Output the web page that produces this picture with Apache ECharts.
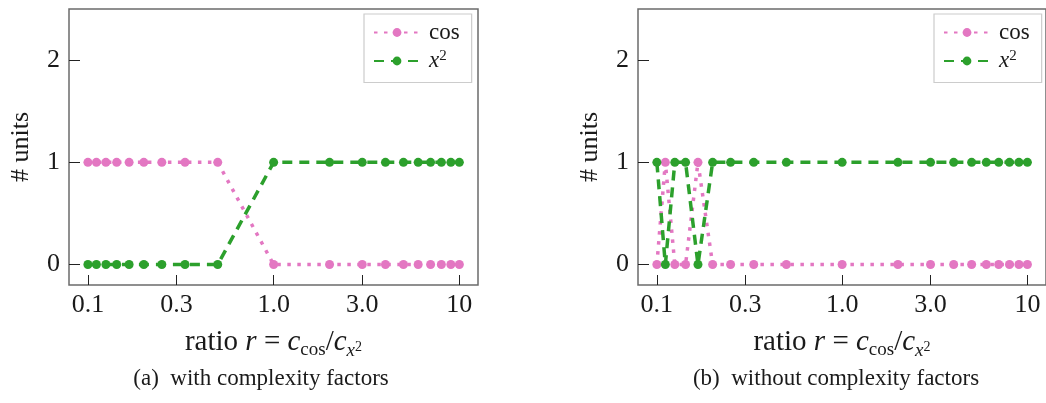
<!DOCTYPE html>
<html>
<head>
<meta charset="utf-8">
<script src="https://cdn.jsdelivr.net/npm/echarts@6/dist/echarts.min.js"></script>
<style>
  html, body { margin: 0; padding: 0; background: #fff; }
  #chart { width: 1046px; height: 403px; }
</style>
</head>
<body>
<div id="chart"></div>
<script>
// Cost ratio r = c_cos / c_x2 sampled on both panels
const ratios = [0.1, 1/9, 1/8, 1/7, 1/6, 0.2, 0.25, 1/3, 0.5, 1, 2, 3, 4, 5, 6, 7, 8, 9, 10];

// Number of units chosen per function, (a) with complexity factors
const cosWith = [1, 1, 1, 1, 1, 1, 1, 1, 1, 0, 0, 0, 0, 0, 0, 0, 0, 0, 0];
const sqWith  = [0, 0, 0, 0, 0, 0, 0, 0, 0, 1, 1, 1, 1, 1, 1, 1, 1, 1, 1];

// (b) without complexity factors
const cosWithout = [0, 1, 0, 0, 1, 0, 0, 0, 0, 0, 0, 0, 0, 0, 0, 0, 0, 0, 0];
const sqWithout  = [1, 0, 1, 1, 0, 1, 1, 1, 1, 1, 1, 1, 1, 1, 1, 1, 1, 1, 1];

const xTicks = [0.1, 0.3, 1, 3, 10];
const xTickLabels = ['0.1', '0.3', '1.0', '3.0', '10'];
const yTicks = [0, 1, 2];
const captions = ['(a)  with complexity factors', '(b)  without complexity factors'];

const PINK = '#e377c2';
const GREEN = '#2ca02c';
const SERIF = 'Liberation Serif';
const INK = '#1a1a1a';

const pairs = (xs, ys) => xs.map((x, i) => [x, ys[i]]);

const grids = [
  { left: 69, top: 9, width: 409, height: 276 },
  { left: 638, top: 9, width: 409, height: 276 }
];
// horizontal centres of the two sub-captions
const captionCenters = [261, 836];

function xLabel(v) {
  let best = 0;
  xTicks.forEach((t, i) => {
    if (Math.abs(Math.log10(t) - Math.log10(v)) < Math.abs(Math.log10(xTicks[best]) - Math.log10(v))) best = i;
  });
  return xTickLabels[best];
}

const axisNameRich = {
  t: { fontFamily: SERIF, fontSize: 29, lineHeight: 36, color: INK },
  i: { fontFamily: SERIF, fontSize: 29, lineHeight: 36, fontStyle: 'italic', color: INK },
  s: { fontFamily: SERIF, fontSize: 19, lineHeight: 21, verticalAlign: 'bottom', color: INK },
  si: { fontFamily: SERIF, fontSize: 19, lineHeight: 21, verticalAlign: 'bottom', fontStyle: 'italic', color: INK },
  ss: { fontFamily: SERIF, fontSize: 14, lineHeight: 15, verticalAlign: 'bottom', padding: [0, 0, 6, 0], color: INK }
};

function makeXAxis(gridIndex) {
  return {
    type: 'log',
    gridIndex,
    min: 0.0791,
    max: 12.6,
    name: '{t|ratio }{i|r}{t| = }{i|c}{s|cos}{t|/}{i|c}{si|x}{ss|2}',
    nameLocation: 'middle',
    nameGap: 39,
    nameTextStyle: { rich: axisNameRich },
    axisLine: { show: false, onZero: false },
    splitLine: { show: false },
    minorTick: { show: false },
    axisTick: { inside: true, length: 10, customValues: xTicks, lineStyle: { color: '#222', width: 1 } },
    axisLabel: {
      customValues: xTicks,
      formatter: xLabel,
      fontFamily: SERIF, fontSize: 26, color: INK, margin: 7
    }
  };
}

function makeYAxis(gridIndex) {
  return {
    type: 'value',
    gridIndex,
    min: -0.2,
    max: 2.5,
    name: '# units',
    nameLocation: 'middle',
    nameGap: 35,
    nameTextStyle: { fontFamily: SERIF, fontSize: 26, color: INK },
    axisLine: { show: false, onZero: false },
    splitLine: { show: false },
    axisTick: { inside: true, length: 11, customValues: yTicks, lineStyle: { color: '#222', width: 1 } },
    axisLabel: { customValues: yTicks, fontFamily: SERIF, fontSize: 26, color: INK, margin: 9 }
  };
}

function makeSeries(name, idx, xs, ys, color, dash) {
  return {
    name,
    type: 'line',
    xAxisIndex: idx,
    yAxisIndex: idx,
    data: pairs(xs, ys),
    symbol: 'circle',
    symbolSize: 9,
    showSymbol: true,
    animation: false,
    itemStyle: { color },
    lineStyle: { color, width: 3.5, type: dash },
    emphasis: { disabled: true },
    z: name === 'cos' ? 2 : 3
  };
}

function makeLegend(left) {
  return {
    orient: 'vertical',
    left,
    top: 14,
    padding: [7, 12, 10, 9],
    itemGap: 5,
    itemWidth: 46,
    itemHeight: 11,
    borderColor: '#cccccc',
    borderWidth: 1.2,
    borderRadius: 0,
    backgroundColor: '#fff',
    selectedMode: false,
    data: ['cos', 'x²'],
    formatter: n => (n === 'x²' ? '{i|x}{p|2}' : '{n|cos}'),
    textStyle: {
      padding: [0, 0, 0, 4],
      rich: {
        n: { fontFamily: SERIF, fontSize: 23, lineHeight: 24, color: INK },
        i: { fontFamily: SERIF, fontSize: 23, lineHeight: 24, fontStyle: 'italic', color: INK },
        p: { fontFamily: SERIF, fontSize: 15, lineHeight: 15, verticalAlign: 'top', color: INK }
      }
    }
  };
}

const option = {
  animation: false,
  backgroundColor: '#fff',
  grid: grids.map(g => Object.assign({ show: true, borderColor: '#6b6b6b', borderWidth: 1.5, backgroundColor: 'transparent' }, g)),
  xAxis: [makeXAxis(0), makeXAxis(1)],
  yAxis: [makeYAxis(0), makeYAxis(1)],
  legend: [makeLegend(364), makeLegend(934)],
  series: [
    makeSeries('cos', 0, ratios, cosWith, PINK, [3.5, 6.5]),
    makeSeries('x²', 0, ratios, sqWith, GREEN, [10, 7]),
    makeSeries('cos', 1, ratios, cosWithout, PINK, [3.5, 6.5]),
    makeSeries('x²', 1, ratios, sqWithout, GREEN, [10, 7])
  ],
  graphic: captions.map((c, i) => ({
    type: 'text',
    x: captionCenters[i],
    y: 379,
    style: {
      text: c,
      fontFamily: SERIF,
      fontSize: 23,
      fill: INK,
      align: 'center',
      verticalAlign: 'middle'
    }
  }))
};

const chart = echarts.init(document.getElementById('chart'), null, { renderer: 'canvas' });
chart.setOption(option);
</script>
</body>
</html>
